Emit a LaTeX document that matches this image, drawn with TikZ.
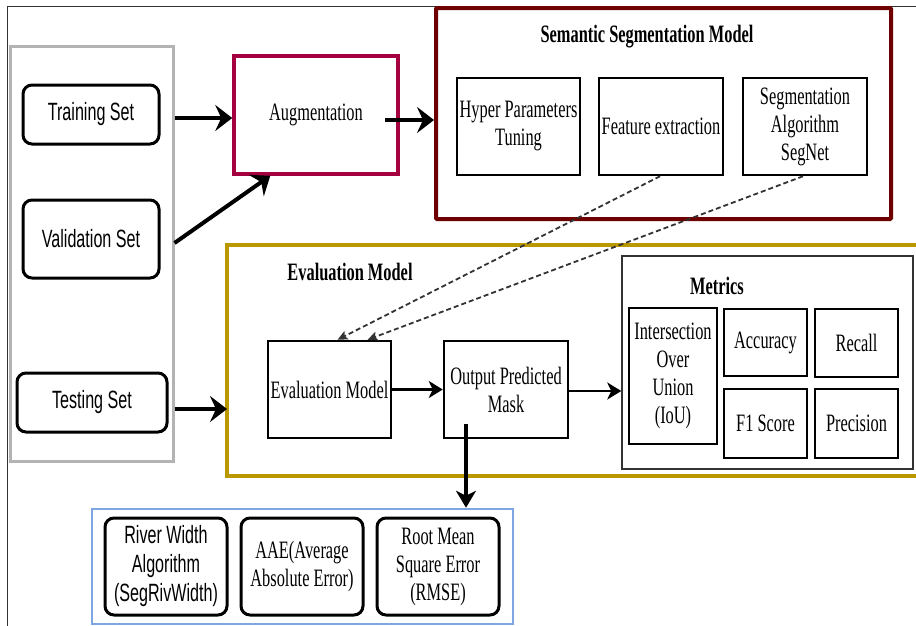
\documentclass[tikz,border=0pt]{standalone}
\usepackage{fontspec}
\setmainfont{Liberation Serif}[FakeStretch=0.655]
\newfontfamily\sansf{Liberation Sans}[FakeStretch=0.645]
\usetikzlibrary{arrows.meta}
\definecolor{goldc}{RGB}{185,152,0}
\definecolor{semred}{RGB}{111,0,0}
\definecolor{augred}{RGB}{165,0,64}
\definecolor{setgray}{RGB}{179,179,179}
\definecolor{blueb}{RGB}{126,166,224}
\definecolor{frameg}{RGB}{51,51,51}
\tikzset{
  txt/.style={font=\fontsize{25}{28}\selectfont, align=center, inner sep=0pt},
  sz/.style 2 args={minimum width=#1pt, minimum height=#2pt},
  sqbox/.style={txt, draw=black, line width=2.5pt},
  rbox/.style={txt, draw=black, line width=3pt, rounded corners=9pt},
  sanstxt/.style={font=\sansf\fontsize{25}{29}\selectfont},
  titletxt/.style={txt, font=\bfseries\fontsize{25}{28}\selectfont},
  bigarrow/.style={line width=4pt, -{Stealth[length=17pt,width=26pt,inset=6pt]}},
  midarrow/.style={line width=2.5pt, -{Stealth[length=14pt,width=17pt,inset=4pt]}},
  dasharrow/.style={line width=1.8pt, dash pattern=on 5pt off 3pt, draw=black!80, -{Stealth[length=10pt,width=9pt,inset=2pt]}}
}
\begin{document}
\begin{tikzpicture}[x=1pt,y=-1pt]
\useasboundingbox (0,0) rectangle (916,625);
\clip (0,0) rectangle (916,625);
% outer frame
\draw[frameg, line width=1pt] (7,626) -- (7,6) -- (917,6);

% data sets group
\node[draw=setgray, line width=3pt, sz={163}{415}] (grayset) at (91.5,253.5) {};
\node[rbox, sanstxt, sz={136}{59}] (train) at (91,114.5) {Training Set};
\node[rbox, sanstxt, sz={136}{78}] (valid) at (91,239) {Validation Set};
\node[rbox, sanstxt, sz={150}{59}] (test) at (92,402.5) {Testing Set};

% augmentation
\node[txt, draw=augred, line width=3.5pt, sz={164}{118}] (aug) at (316,115) {\raisebox{2pt}{Augmentation}};

% semantic segmentation model
\node[draw=semred, line width=4pt, rounded corners=1pt, sz={455}{211}] (sem) at (663.5,113.5) {};
\node[titletxt] (semtitle) at (647,37) {Semantic Segmentation Model};
\node[sqbox, sz={123}{97}] (hyper) at (518.5,126.5) {Hyper Parameters\\Tuning};
\node[sqbox, sz={124}{97}] (feat) at (661,126.5) {Feature extraction};
\node[sqbox, sz={124}{97}] (segn) at (805,126.5) {Segmentation\\Algorithm\\SegNet};

% evaluation model group
\draw[goldc, line width=4pt] (925,245) -- (227,245) -- (227,476) -- (925,476);
\coordinate (evalleft) at (227,409);
\node[titletxt] (evaltitle) at (350,272) {Evaluation Model};
\node[sqbox, sz={123}{97}] (evalm) at (329.5,389.5) {Evaluation Model};
\node[sqbox, sz={124}{97}] (outm) at (506,389.5) {Output Predicted\\Mask};

% metrics
\node[draw=frameg, line width=1.5pt, sz={291}{213}] (metrics) at (767.5,362.5) {};
\node[titletxt] (mettitle) at (717,286) {Metrics};
\node[sqbox, sz={88}{136}] (iou) at (673,376) {Intersection\\Over\\Union\\(IoU)};
\node[sqbox, sz={83}{67}] (acc) at (765.5,342.5) {Accuracy};
\node[sqbox, sz={83}{68}] (rec) at (856.5,343) {Recall};
\node[sqbox, sz={83}{69}] (f1) at (765.5,423.5) {F1 Score};
\node[sqbox, sz={83}{69}] (prec) at (856.5,423.5) {Precision};

% error measures
\node[draw=blueb, line width=2.5pt, sz={421}{115}] (blue) at (302.5,566.5) {};
\node[rbox, sanstxt, sz={122}{97}] (river) at (166,566.5) {River Width\\Algorithm\\(SegRivWidth)};
\node[rbox, sz={122}{97}] (aae) at (302,566.5) {AAE(Average\\Absolute Error)};
\node[rbox, sz={122}{97}] (rmse) at (438,566.5) {Root Mean\\Square Error\\(RMSE)};

% connectors
\draw[bigarrow] (grayset.east |- 0,118) -- (aug.west |- 0,118);
\draw[bigarrow] (385,120) -- (sem.west |- 0,120);
\draw[bigarrow] (grayset.east |- 0,243) -- ([xshift=38pt]aug.south west);
\draw[bigarrow] (grayset.east |- evalleft) -- (evalleft);
\draw[midarrow] (evalm.east) -- (outm.west);
\draw[midarrow] (outm.east |- 0,391) -- (metrics.west |- 0,391);
\draw[line width=3.5pt, -{Stealth[length=17pt,width=20pt,inset=5pt]}] (466,424) -- (blue.north -| 466,0);
\draw[dasharrow] (feat.south -| 660,0) -- ([xshift=8pt]evalm.north);
\draw[dasharrow] (segn.south -| 803,0) -- ([xshift=38pt]evalm.north);
\end{tikzpicture}
\end{document}
